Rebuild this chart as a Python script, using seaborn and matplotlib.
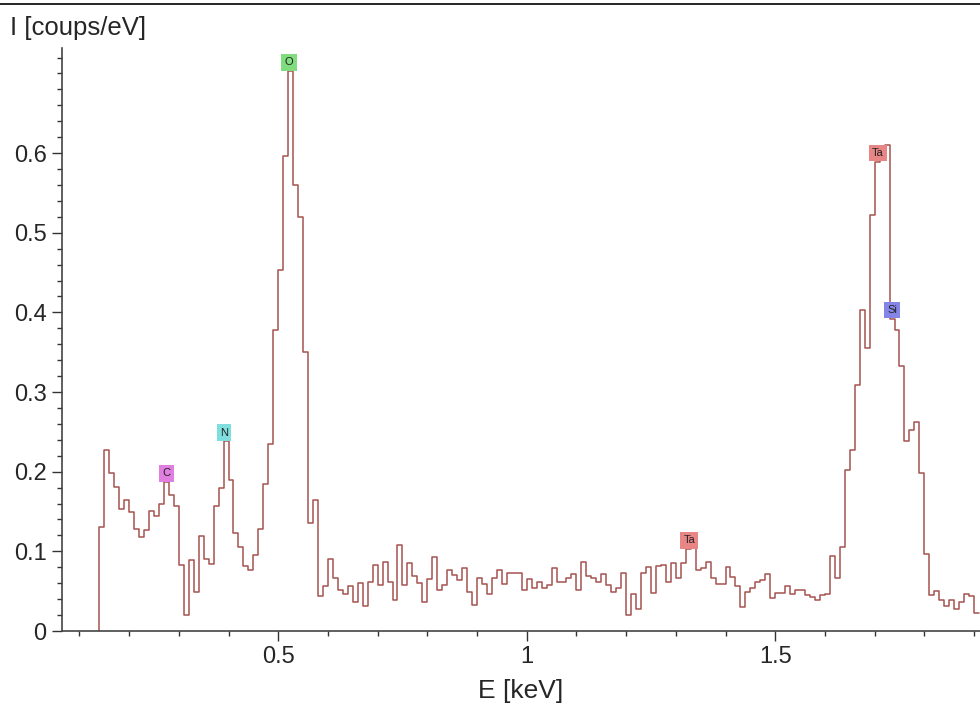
import numpy as np
import pandas as pd
import seaborn as sns
import matplotlib
matplotlib.use("Agg")
import matplotlib.pyplot as plt
from matplotlib.ticker import MultipleLocator, FuncFormatter
from matplotlib.lines import Line2D

# spectrum: 10 eV channels starting at 0.14 keV
e_start = 0.14
e_step = 0.01
counts = [
    0.130, 0.227, 0.199, 0.181, 0.153, 0.165, 0.150, 0.128, 0.118, 0.127,
    0.151, 0.144, 0.160, 0.187, 0.171, 0.157, 0.083, 0.020, 0.089, 0.049,
    0.119, 0.091, 0.084, 0.157, 0.180, 0.238, 0.190, 0.123, 0.106, 0.081,
    0.076, 0.095, 0.128, 0.184, 0.235, 0.378, 0.453, 0.596, 0.703, 0.560,
    0.520, 0.350, 0.136, 0.164, 0.044, 0.056, 0.090, 0.066, 0.051, 0.047,
    0.056, 0.037, 0.060, 0.031, 0.062, 0.083, 0.058, 0.087, 0.062, 0.039,
    0.108, 0.058, 0.086, 0.069, 0.060, 0.037, 0.065, 0.093, 0.052, 0.058,
    0.077, 0.070, 0.064, 0.079, 0.049, 0.033, 0.067, 0.059, 0.046, 0.066,
    0.077, 0.059, 0.073, 0.073, 0.073, 0.051, 0.065, 0.054, 0.061, 0.054,
    0.058, 0.079, 0.061, 0.061, 0.067, 0.072, 0.052, 0.087, 0.069, 0.067,
    0.061, 0.072, 0.058, 0.049, 0.054, 0.073, 0.020, 0.046, 0.027, 0.073,
    0.080, 0.048, 0.082, 0.083, 0.062, 0.086, 0.066, 0.086, 0.103, 0.106,
    0.077, 0.079, 0.087, 0.067, 0.059, 0.059, 0.080, 0.068, 0.056, 0.030,
    0.049, 0.054, 0.062, 0.064, 0.072, 0.042, 0.048, 0.048, 0.056, 0.047,
    0.051, 0.051, 0.045, 0.043, 0.039, 0.045, 0.047, 0.094, 0.066, 0.106,
    0.202, 0.227, 0.309, 0.403, 0.355, 0.522, 0.589, 0.592, 0.610, 0.392,
    0.378, 0.333, 0.239, 0.252, 0.262, 0.198, 0.097, 0.045, 0.050, 0.039,
    0.031, 0.039, 0.028, 0.036, 0.047, 0.044, 0.022,
]

# element markers
peak_names = ["C", "N", "O", "Ta", "Ta", "Si"]
peak_energy = [0.276, 0.391, 0.522, 1.327, 1.707, 1.735]
peak_colors = ["#e07fe0", "#7fdede", "#7fdc7f", "#e88585", "#e88585", "#8585e8"]

x_ticks = [0.5, 1, 1.5]

counts = np.array(counts)
edges = e_start + e_step * np.arange(len(counts) + 1)
x = np.concatenate([[edges[0]], edges])
y = np.concatenate([[0.0], counts, [counts[-1]]])
df = pd.DataFrame({"E": x, "I": y})

sns.set_style("ticks")
plt.rcParams["font.family"] = ["Liberation Sans", "DejaVu Sans"]

fig = plt.figure(figsize=(9.8, 7.04), dpi=100)
ax = fig.add_axes([62 / 980, 73 / 704, 1 - 62 / 980, 583 / 704])

sns.lineplot(data=df, x="E", y="I", sort=False, estimator=None,
             drawstyle="steps-post", color="#a5544f", linewidth=1.1, ax=ax)

for name, e, c in zip(peak_names, peak_energy, peak_colors):
    k = min(int((e - e_start) / e_step), len(counts) - 1)
    ax.text(e, counts[k] + 0.011, name, ha="center", va="center", fontsize=8,
            color="#222222",
            bbox=dict(boxstyle="square,pad=0.3", fc=c, ec="none"))

ax.set_xlim(0.065, 1.912)
ax.set_ylim(0, 0.732)
ax.set_xticks(x_ticks)
ax.xaxis.set_minor_locator(MultipleLocator(0.1))
ax.yaxis.set_minor_locator(MultipleLocator(0.02))
ax.set_yticks([v / 10 for v in range(7)])
fmt = FuncFormatter(lambda v, p: "%g" % round(v, 3))
ax.xaxis.set_major_formatter(fmt)
ax.yaxis.set_major_formatter(fmt)
ax.tick_params(axis="both", which="major", labelsize=17, length=7, width=1,
               color="#333333", pad=4)
ax.tick_params(axis="both", which="minor", length=3.5, width=1, color="#333333")

ax.set_xlabel("E [keV]", fontsize=19, labelpad=8)
ax.set_ylabel("")
fig.text(10 / 980, 1 - 28 / 704, "I [coups/eV]", fontsize=18.5, va="center", ha="left")

for side in ["top", "right"]:
    ax.spines[side].set_visible(False)
for side in ["left", "bottom"]:
    ax.spines[side].set_color("#444444")
    ax.spines[side].set_linewidth(1.2)

fig.add_artist(Line2D([0, 1], [1 - 4 / 704, 1 - 4 / 704], color="black", linewidth=1.2))

fig.savefig("out.png", dpi=100)
